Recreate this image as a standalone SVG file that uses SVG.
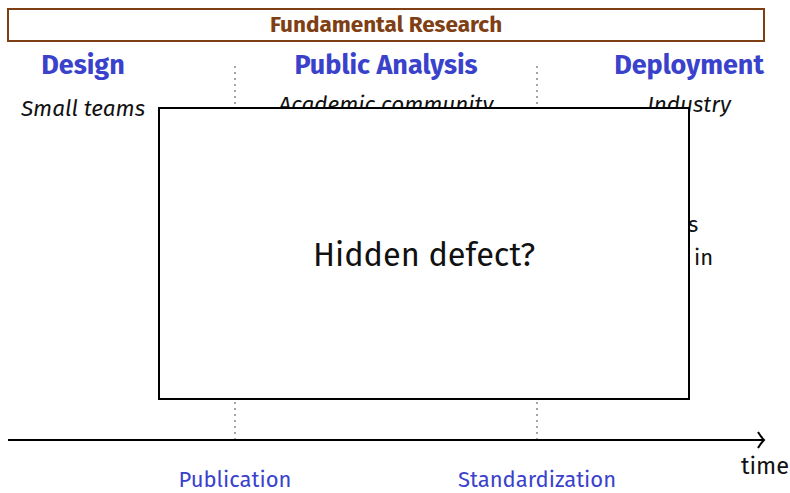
<svg xmlns="http://www.w3.org/2000/svg" width="790" height="493" viewBox="0 0 790 493">
<style>
text{font-family:"Fira Sans","Open Sans","Noto Sans",sans-serif}
.phase{font-size:27px;font-weight:bold;fill:#3a42cc;text-anchor:middle}
.who{font-size:22.5px;font-style:italic;fill:#111;text-anchor:middle}
.ev{font-size:22px;fill:#3a42cc;text-anchor:middle}
.dot{stroke:#888;stroke-width:1.5;stroke-dasharray:2 4}
</style>
<defs>
<marker id="arr" markerWidth="12" markerHeight="20" refX="10" refY="10" orient="auto" markerUnits="userSpaceOnUse">
<path d="M4,2 Q7,7 10,10 Q7,13 4,18" fill="none" stroke="#000" stroke-width="2"/>
</marker>
</defs>
<rect width="790" height="493" fill="#fff"/>
<g id="fundamental">
<rect x="8" y="9" width="756" height="32" fill="#fff" stroke="#7f3f14" stroke-width="2"/>
<text x="386" y="32" font-size="22.5" font-weight="bold" fill="#7f3f14" text-anchor="middle">Fundamental Research</text>
</g>
<g id="design"><text class="phase" x="83" y="74">Design</text><text class="who" x="83" y="116">Small teams</text></g>
<g id="analysis"><text class="phase" x="386" y="74">Public Analysis</text><text class="who" x="386" y="112">Academic community</text></g>
<g id="deployment"><text class="phase" x="689" y="74">Deployment</text><text class="who" x="689" y="112">Industry</text>
<text x="688" y="232" font-size="22" fill="#111">s</text><text x="694" y="265" font-size="22" fill="#111">in</text></g>
<g id="connectors">
<line class="dot" x1="235" y1="66" x2="235" y2="440"/>
<line class="dot" x1="537" y1="66" x2="537" y2="440"/>
<line x1="8" y1="440" x2="764" y2="440" stroke="#000" stroke-width="2" marker-end="url(#arr)"/>
</g>
<g id="hidden">
<rect x="159" y="108" width="530" height="291" fill="#fff" stroke="#000" stroke-width="2"/>
<text x="424" y="266" font-size="32.5" fill="#111" text-anchor="middle">Hidden defect?</text>
</g>
<g id="time"><text x="741" y="474" font-size="23.5" fill="#111">time</text></g>
<g id="publication"><text class="ev" x="235" y="487">Publication</text></g>
<g id="standardization"><text class="ev" x="537" y="487">Standardization</text></g>
</svg>
